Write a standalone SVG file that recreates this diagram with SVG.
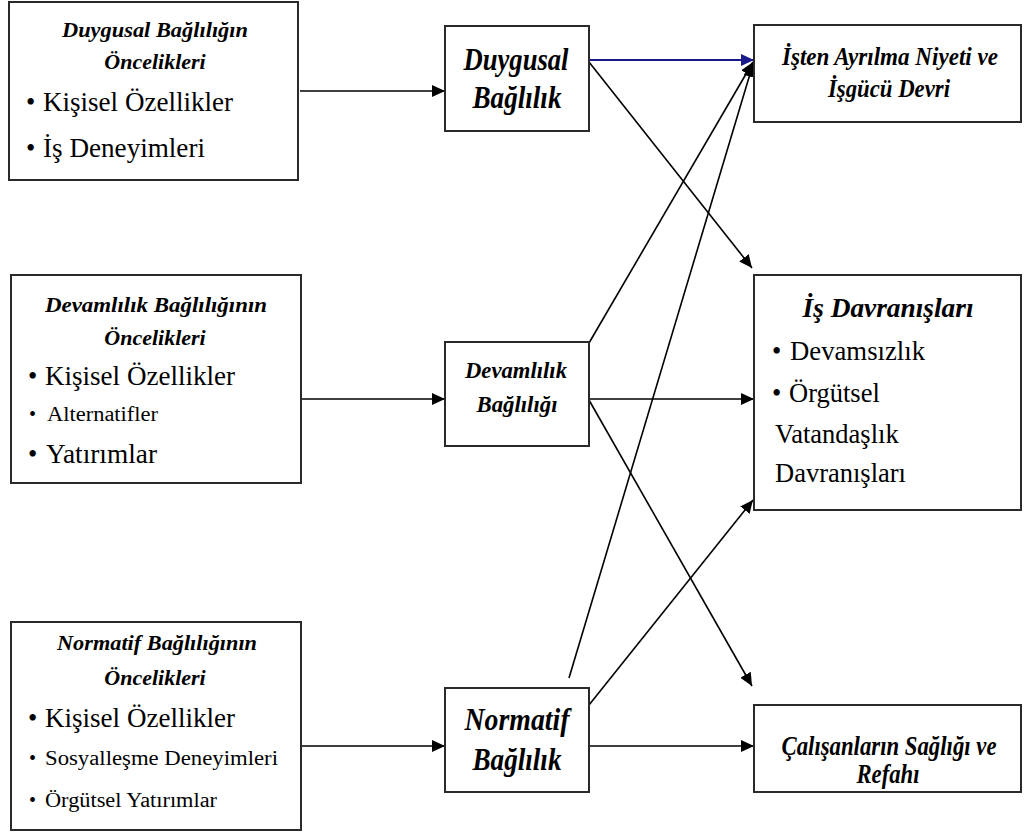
<svg xmlns="http://www.w3.org/2000/svg" width="1024" height="836" viewBox="0 0 1024 836">
<defs>
<style>
.box{fill:#fff;stroke:#2a2a2a;stroke-width:2}
.bi{font-weight:bold;font-style:italic}
.c{text-anchor:middle}
.ln{stroke:#000;stroke-width:1.6;fill:none;marker-end:url(#ah)}
.lb{stroke:#1a1a8a;stroke-width:1.8;fill:none;marker-end:url(#ahb)}
</style>
<marker id="ah" markerUnits="userSpaceOnUse" markerWidth="14" markerHeight="12" refX="13" refY="6" orient="auto"><path d="M0,0 L13,6 L0,12 z" fill="#000"/></marker>
<marker id="ahb" markerUnits="userSpaceOnUse" markerWidth="14" markerHeight="12" refX="13" refY="6" orient="auto"><path d="M0,0 L13,6 L0,12 z" fill="#1a1a8a"/></marker>
</defs>
<rect width="1024" height="836" fill="#fff"/>

<g id="connectors">
<line class="ln" x1="300" y1="91" x2="445" y2="91"/>
<line class="ln" x1="302" y1="399" x2="445" y2="399"/>
<line class="ln" x1="302" y1="746" x2="445" y2="746"/>
<line class="lb" x1="589" y1="60" x2="754" y2="60"/>
<line class="ln" x1="589" y1="62" x2="752" y2="268"/>
<line class="ln" x1="589" y1="343" x2="753" y2="62"/>
<line class="ln" x1="569" y1="678" x2="753" y2="64"/>
<line class="ln" x1="589" y1="399" x2="754" y2="399"/>
<line class="ln" x1="589" y1="400" x2="752" y2="686"/>
<line class="ln" x1="589" y1="705" x2="753" y2="500"/>
<line class="ln" x1="589" y1="746" x2="754" y2="746"/>
</g>

<g font-family="Liberation Serif, Tinos, Times New Roman, Noto Serif, DejaVu Serif, serif" fill="#000">
<g id="duygusal-oncelikleri">
<rect class="box" x="9" y="2" width="289" height="178"/>
<text class="bi c" x="155" y="37" font-size="22" textLength="186" lengthAdjust="spacingAndGlyphs">Duygusal Bağlılığın</text>
<text class="bi c" x="155" y="69" font-size="22">Öncelikleri</text>
<text x="26" y="111" font-size="26.5">•<tspan x="43" textLength="190" lengthAdjust="spacingAndGlyphs">Kişisel Özellikler</tspan></text>
<text x="26" y="157" font-size="26.5">•<tspan x="43" textLength="162" lengthAdjust="spacingAndGlyphs">İş Deneyimleri</tspan></text>
</g>

<g id="devamlilik-oncelikleri">
<rect class="box" x="11" y="275" width="290" height="208"/>
<text class="bi c" x="156" y="312" font-size="22" textLength="222" lengthAdjust="spacingAndGlyphs">Devamlılık Bağlılığının</text>
<text class="bi c" x="155" y="345" font-size="22">Öncelikleri</text>
<text x="28" y="385" font-size="26.5">•<tspan x="45" textLength="190" lengthAdjust="spacingAndGlyphs">Kişisel Özellikler</tspan></text>
<text x="29" y="421" font-size="20">•<tspan x="47" textLength="111" lengthAdjust="spacingAndGlyphs">Alternatifler</tspan></text>
<text x="28" y="463" font-size="26.5">•<tspan x="46" textLength="111" lengthAdjust="spacingAndGlyphs">Yatırımlar</tspan></text>
</g>

<g id="normatif-oncelikleri">
<rect class="box" x="11" y="622" width="290" height="208"/>
<text class="bi c" x="157" y="650" font-size="22" textLength="200" lengthAdjust="spacingAndGlyphs">Normatif Bağlılığının</text>
<text class="bi c" x="155" y="685" font-size="22">Öncelikleri</text>
<text x="28" y="727" font-size="26.5">•<tspan x="45" textLength="190" lengthAdjust="spacingAndGlyphs">Kişisel Özellikler</tspan></text>
<text x="29" y="765" font-size="20">•<tspan x="45" textLength="233" lengthAdjust="spacingAndGlyphs">Sosyalleşme Deneyimleri</tspan></text>
<text x="29" y="807" font-size="20">•<tspan x="45" textLength="172" lengthAdjust="spacingAndGlyphs">Örgütsel Yatırımlar</tspan></text>
</g>

<g id="duygusal-baglilik">
<rect class="box" x="445" y="26" width="144" height="105"/>
<text class="bi c" x="516" y="70" font-size="31" textLength="105" lengthAdjust="spacingAndGlyphs">Duygusal</text>
<text class="bi c" x="517" y="108" font-size="31" textLength="89" lengthAdjust="spacingAndGlyphs">Bağlılık</text>
</g>

<g id="devamlilik-baglilik">
<rect class="box" x="445" y="342" width="144" height="104"/>
<text class="bi c" x="516" y="378" font-size="24" textLength="102" lengthAdjust="spacingAndGlyphs">Devamlılık</text>
<text class="bi c" x="517" y="412" font-size="24" textLength="81" lengthAdjust="spacingAndGlyphs">Bağlılığı</text>
</g>

<g id="normatif-baglilik">
<rect class="box" x="445" y="688" width="144" height="104"/>
<text class="bi c" x="517" y="730" font-size="31" textLength="105" lengthAdjust="spacingAndGlyphs">Normatif</text>
<text class="bi c" x="517" y="770" font-size="31" textLength="89" lengthAdjust="spacingAndGlyphs">Bağlılık</text>
</g>

<g id="isten-ayrilma">
<rect class="box" x="754" y="25" width="267" height="97"/>
<text class="bi c" x="890" y="65" font-size="26" textLength="216" lengthAdjust="spacingAndGlyphs">İşten Ayrılma Niyeti ve</text>
<text class="bi c" x="889" y="97" font-size="26" textLength="122" lengthAdjust="spacingAndGlyphs">İşgücü Devri</text>
</g>

<g id="is-davranislari">
<rect class="box" x="754" y="275" width="267" height="235"/>
<text class="bi c" x="888" y="317" font-size="27.5" textLength="171" lengthAdjust="spacingAndGlyphs">İş Davranışları</text>
<text x="772" y="360" font-size="26.5">•<tspan x="790" textLength="135" lengthAdjust="spacingAndGlyphs">Devamsızlık</tspan></text>
<text x="772" y="402" font-size="26.5">•<tspan x="789">Örgütsel</tspan></text>
<text x="775" y="443" font-size="26.5">Vatandaşlık</text>
<text x="775" y="482" font-size="26.5">Davranışları</text>
</g>

<g id="calisanlarin-sagligi">
<rect class="box" x="754" y="705" width="267" height="87"/>
<text class="bi c" x="889" y="755" font-size="27" textLength="215" lengthAdjust="spacingAndGlyphs">Çalışanların Sağlığı ve</text>
<text class="bi c" x="888" y="783" font-size="27" textLength="63" lengthAdjust="spacingAndGlyphs">Refahı</text>
</g>
</g>
</svg>
